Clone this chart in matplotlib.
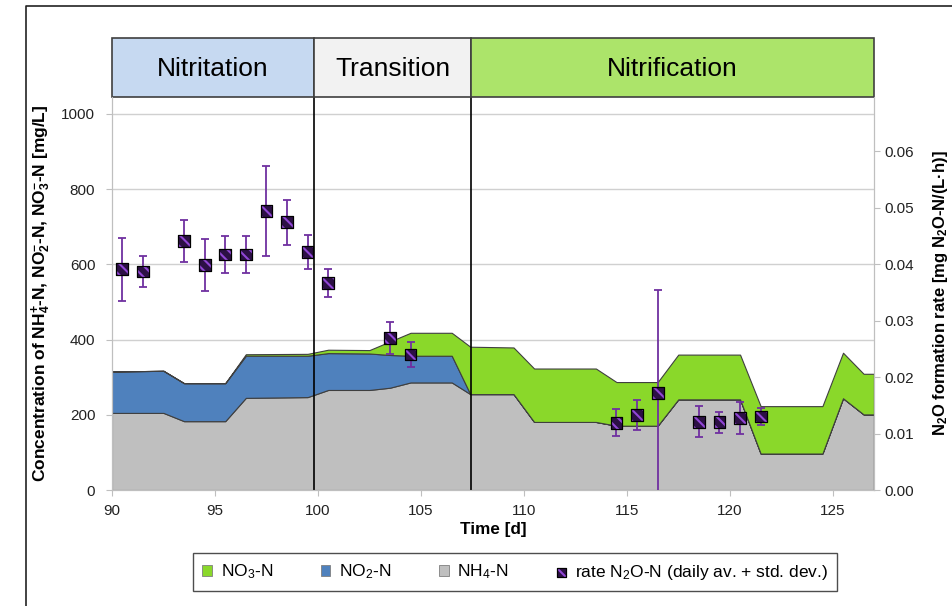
import matplotlib
matplotlib.use("Agg")
import matplotlib.pyplot as plt
from matplotlib.patches import Rectangle, Patch
from matplotlib.lines import Line2D
from matplotlib.legend_handler import HandlerTuple
import numpy as np

plt.rcParams['font.family'] = ['Liberation Sans', 'DejaVu Sans']
plt.rcParams['mathtext.fontset'] = 'custom'
plt.rcParams['mathtext.rm'] = 'Liberation Sans'
plt.rcParams['mathtext.it'] = 'Liberation Sans:italic'
plt.rcParams['mathtext.bf'] = 'Liberation Sans:bold'
plt.rcParams['hatch.color'] = '#9146d6'
plt.rcParams['hatch.linewidth'] = 1.5

# concentrations [mg/L], stacked: NH4 bottom, NO2, NO3 on top
days = [90, 92.5, 93.5, 95.5, 96.5, 99.5, 100.5, 102.5, 103.5, 104.5, 106.5,
        107.4, 109.5, 110.5, 113.5, 114.5, 116.5, 117.5, 120.5, 121.5, 124.5,
        125.5, 126.5, 127]
nh4 = [205, 205, 183, 183, 245, 247, 266, 266, 272, 286, 286, 255, 255, 181,
       181, 171, 171, 241, 241, 97, 97, 244, 201, 201]
no2 = [110, 112, 101, 101, 112, 110, 98, 97, 87, 71, 71, 0, 0, 0, 0, 0, 0, 0,
       0, 0, 0, 0, 0, 0]
no3 = [0, 0, 0, 0, 4, 5, 9, 9, 36, 61, 61, 126, 124, 142, 142, 116, 116, 119,
       119, 126, 126, 121, 108, 108]

# N2O formation rate, daily average and std. dev. [mg N2O-N/(L*h)]
rate_days = [90.5, 91.5, 93.5, 94.5, 95.5, 96.5, 97.5, 98.5, 99.5, 100.5,
             103.5, 104.5, 114.5, 115.5, 116.5, 118.5, 119.5, 120.5, 121.5]
rate = [0.0391, 0.0387, 0.0441, 0.0398, 0.0417, 0.0417, 0.0494, 0.0474, 0.0421,
        0.0366, 0.0269, 0.0240, 0.0119, 0.0133, 0.0172, 0.0121, 0.0120, 0.0127,
        0.0130]
rate_sd = [0.0056, 0.0027, 0.0038, 0.0046, 0.0033, 0.0033, 0.0080, 0.0040,
           0.0030, 0.0025, 0.0028, 0.0022, 0.0024, 0.0027, 0.0182, 0.0027,
           0.0019, 0.0028, 0.0015]

# phases
phase_names = ['Nitritation', 'Transition', 'Nitrification']
phase_edges = [90, 99.8, 107.45, 127]
phase_colors = ['#c6d9f1', '#f2f2f2', '#ace46a']

c_nh4 = '#bfbfbf'
c_no2 = '#4f81bd'
c_no3 = '#8ad82a'
c_purple = '#7030a0'
axis_gray = '#bfbfbf'

fig = plt.figure(figsize=(9.53, 6.06), dpi=100)
ax = fig.add_axes([0.1175, 0.1914, 0.7995, 0.6486])

ax.stackplot(days, nh4, no2, no3, colors=[c_nh4, c_no2, c_no3],
             edgecolor='#3f3f3f', linewidth=0.8)
ax.set_xlim(90, 127)
ax.set_ylim(0, 1045)
ax.set_yticks(np.arange(0, 1001, 200))
ax.set_xticks(np.arange(90, 126, 5))
ax.grid(axis='y', color='#d0d0d0', linewidth=1)
ax.set_axisbelow(True)

for x in phase_edges[1:3]:
    ax.axvline(x, color='black', linewidth=1.2, zorder=5)

for sp in ['left', 'bottom', 'right']:
    ax.spines[sp].set_color(axis_gray)
ax.spines['top'].set_visible(False)
ax.tick_params(axis='both', direction='out', length=4, color=axis_gray,
               labelsize=11, labelcolor='#222222')
ax.tick_params(axis='x', pad=6)
ax.tick_params(axis='y', pad=8)

ax.set_xlabel('Time [d]', fontsize=12.3, fontweight='bold', labelpad=3)
ax.set_ylabel(r'Concentration of NH$_{\mathbf{4}}^{\mathbf{+}}$-N, '
              r'NO$_{\mathbf{2}}^{\mathbf{-}}$-N, NO$_{\mathbf{3}}^{\mathbf{-}}$-N [mg/L]',
              fontsize=12.5, fontweight='bold')
ax.yaxis.set_label_coords(-0.078, 0.5)

# phase boxes above the plot
for i, name in enumerate(phase_names):
    x0, x1 = phase_edges[i], phase_edges[i + 1]
    r = Rectangle((x0, 1.0), x1 - x0, 0.15, transform=ax.get_xaxis_transform(),
                  facecolor=phase_colors[i], edgecolor='#3f3f3f', linewidth=1.2,
                  clip_on=False, zorder=6)
    ax.add_patch(r)
    ax.text((x0 + x1) / 2, 1.072, name, transform=ax.get_xaxis_transform(),
            ha='center', va='center', fontsize=19, zorder=7)

ax2 = ax.twinx()
ax2.set_ylim(0, 0.0696)
ax2.set_yticks(np.arange(0, 0.061, 0.01))
ax2.set_yticklabels(['%.2f' % v for v in np.arange(0, 0.061, 0.01)])
for sp in ['left', 'bottom', 'right']:
    ax2.spines[sp].set_color(axis_gray)
ax2.spines['top'].set_visible(False)
ax2.tick_params(axis='y', direction='out', length=4, color=axis_gray,
                labelsize=11, labelcolor='#222222')
ax2.set_ylabel(r'N$_{\mathbf{2}}$O formation rate [mg N$_{\mathbf{2}}$O-N/(L·h)]',
               fontsize=12, fontweight='bold')
ax2.yaxis.set_label_coords(1.075, 0.5)

ax2.errorbar(rate_days, rate, yerr=rate_sd, fmt='none', ecolor=c_purple,
             elinewidth=1.3, capsize=3, capthick=1.3, zorder=3)
# hatched fill first, black outline on top
sc_fill = ax2.scatter(rate_days, rate, marker='s', s=72, facecolor='#2c1045',
                      edgecolor='#9146d6', linewidths=0, hatch='\\\\\\',
                      zorder=4)
sc_edge = ax2.scatter(rate_days, rate, marker='s', s=72, facecolor='none',
                      edgecolor='black', linewidths=0.9, zorder=5)

handles = [Patch(facecolor=c_no3, edgecolor='#7f7f7f', linewidth=0.6),
           Patch(facecolor=c_no2, edgecolor='#7f7f7f', linewidth=0.6),
           Patch(facecolor=c_nh4, edgecolor='#7f7f7f', linewidth=0.6),
           (sc_fill, sc_edge)]
labels = [r'NO$_3$-N', r'NO$_2$-N', r'NH$_4$-N',
          r'rate N$_2$O-N (daily av. + std. dev.)']
leg = fig.legend(handles, labels, loc='center', bbox_to_anchor=(0.5405, 0.056),
                 ncol=4, fontsize=12.5, frameon=True, fancybox=False,
                 edgecolor='#222222', handlelength=0.55, handleheight=0.55,
                 columnspacing=2.75, handletextpad=0.5, borderpad=0.55,
                 markerscale=0.75,
                 handler_map={tuple: HandlerTuple(ndivide=1, pad=0)})
leg.get_frame().set_linewidth(1.0)

# outer frame of the chart (partly cropped)
fig.add_artist(Line2D([26 / 953, 26 / 953, 1.0], [0.0, 1 - 6 / 606, 1 - 6 / 606],
                      transform=fig.transFigure, color='#222222', linewidth=1.2))

fig.savefig('out.png', dpi=100)
